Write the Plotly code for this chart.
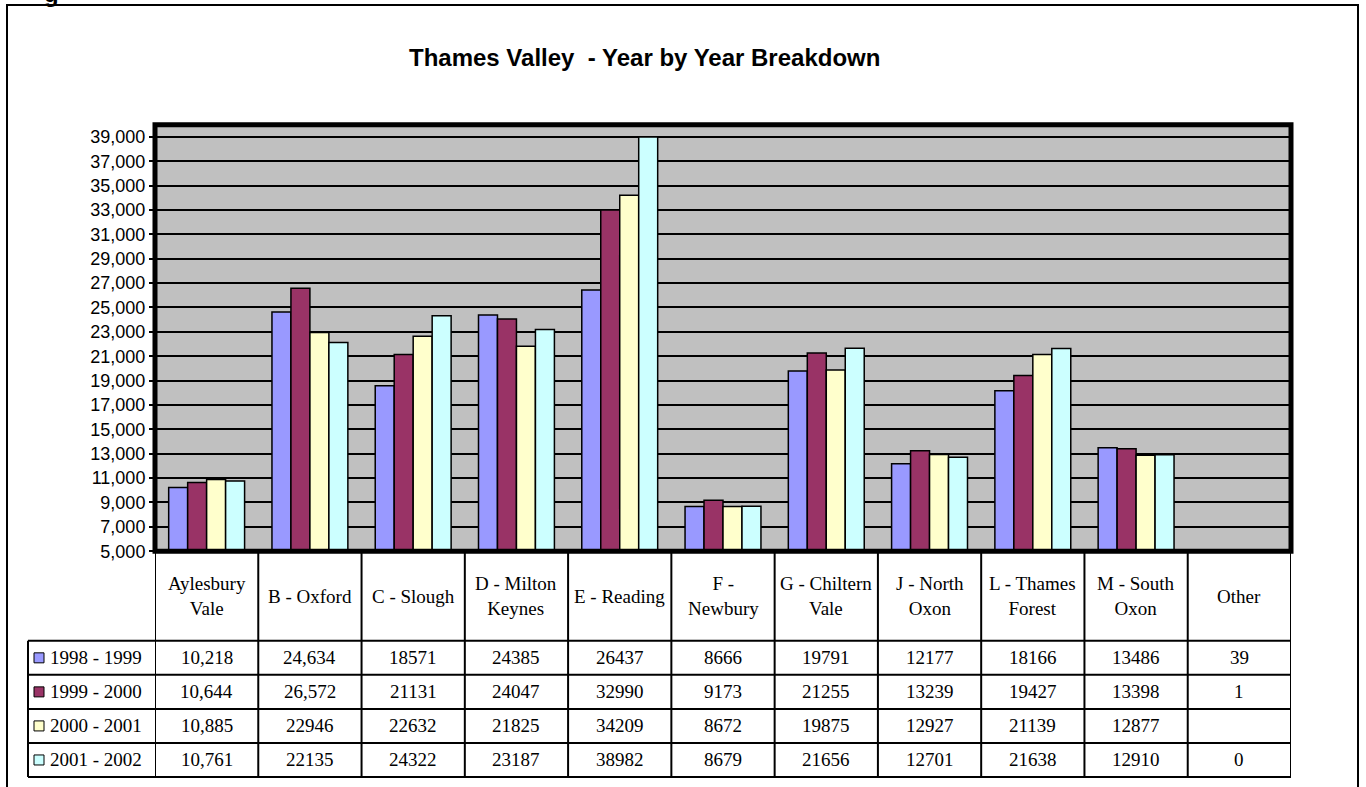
import plotly.graph_objects as go

W, H = 1366, 787
FIG_H = 798  # page is shown slightly squashed vertically; keep fractions on 787

categories = ["Aylesbury<br>Vale", "B - Oxford", "C - Slough", "D - Milton<br>Keynes",
              "E - Reading", "F -<br>Newbury", "G - Chiltern<br>Vale", "J - North<br>Oxon",
              "L - Thames<br>Forest", "M - South<br>Oxon", "Other"]

series_names = ["1998 - 1999", "1999 - 2000", "2000 - 2001", "2001 - 2002"]
y1998 = [10218, 24634, 18571, 24385, 26437, 8666, 19791, 12177, 18166, 13486, 39]
y1999 = [10644, 26572, 21131, 24047, 32990, 9173, 21255, 13239, 19427, 13398, 1]
y2000 = [10885, 22946, 22632, 21825, 34209, 8672, 19875, 12927, 21139, 12877, None]
y2001 = [10761, 22135, 24322, 23187, 38982, 8679, 21656, 12701, 21638, 12910, 0]
# how many leading cells in each table row are shown with thousands separators
comma_cells = [2, 2, 1, 1]

y_ticks = list(range(5000, 40000, 2000))

colors = ["#9999FF", "#993366", "#FFFFCC", "#CCFFFF"]
series = [y1998, y1999, y2000, y2001]


def px(x):
    return x / W


def py(y):
    return 1 - y / H


# pixel layout
plot_l, plot_r, plot_t, plot_b = 155, 1291, 124.5, 550.5
head_b = 640
row_h = 34
legend_l = 28

fig = go.Figure()
for name, vals, col in zip(series_names, series, colors):
    fig.add_trace(go.Bar(x=categories, y=vals, name=name, marker_color=col,
                         marker_line=dict(color="black", width=1.5)))

fig.update_layout(
    width=W, height=FIG_H, autosize=False,
    margin=dict(l=0, r=0, t=0, b=0),
    paper_bgcolor="white", plot_bgcolor="#C0C0C0",
    showlegend=False,
    barmode="group", bargap=0.265, bargroupgap=0,
    font=dict(family="Liberation Sans", color="black"),
    xaxis=dict(domain=[px(plot_l), px(plot_r)], type="category", range=[-0.5, 10.5],
               showticklabels=False, showgrid=False, zeroline=False, ticks=""),
    yaxis=dict(domain=[py(plot_b), py(plot_t)], range=[5000, 40000],
               tickvals=y_ticks, tickformat=",", showgrid=True, gridcolor="black",
               gridwidth=2, zeroline=False, ticks="outside", ticklen=5,
               tickwidth=1.5, tickcolor="black",
               tickfont=dict(size=18, family="Liberation Sans")),
)

shapes = []
# outer chart border
shapes.append(dict(type="rect", xref="paper", yref="paper", x0=px(7), x1=px(1358),
                   y0=py(800), y1=py(5), line=dict(color="black", width=2)))
# thick plot area frame
shapes.append(dict(type="rect", xref="paper", yref="paper", x0=px(plot_l), x1=px(plot_r),
                   y0=py(plot_b), y1=py(plot_t), line=dict(color="black", width=5)))

# data table grid
table_b = head_b + row_h * 4
for k in range(len(categories) + 1):
    shapes.append(dict(type="line", xref="x", yref="paper", x0=k - 0.5, x1=k - 0.5,
                       y0=py(plot_b), y1=py(table_b), line=dict(color="black", width=2)))
shapes.append(dict(type="line", xref="paper", yref="paper", x0=px(legend_l), x1=px(legend_l),
                   y0=py(head_b), y1=py(table_b), line=dict(color="black", width=2)))
for r in range(5):
    yy = head_b + r * row_h
    shapes.append(dict(type="line", xref="paper", yref="paper", x0=px(legend_l), x1=px(plot_r),
                       y0=py(yy), y1=py(yy), line=dict(color="black", width=2)))

annotations = []
annotations.append(dict(text="<b>Thames Valley  - Year by Year Breakdown</b>", xref="paper",
                        yref="paper", x=px(644), y=py(57), xanchor="center", yanchor="middle",
                        showarrow=False, font=dict(size=24, family="Liberation Sans")))
annotations.append(dict(text="<b>g</b>", xref="paper", yref="paper", x=px(51), y=py(9),
                        xanchor="center", yanchor="bottom",
                        showarrow=False, font=dict(size=24, family="Liberation Sans")))

serif = dict(size=19, family="Liberation Serif", color="black")
for i, cat in enumerate(categories):
    annotations.append(dict(text=cat, xref="x", yref="paper", x=i, y=py((plot_b + head_b) / 2),
                            xanchor="center", yanchor="middle", showarrow=False, font=serif))

for r, (name, vals, col) in enumerate(zip(series_names, series, colors)):
    yc = head_b + row_h * r + row_h / 2
    shapes.append(dict(type="rect", xref="paper", yref="paper", x0=px(34), x1=px(44),
                       y0=py(yc + 5), y1=py(yc - 5), fillcolor=col,
                       line=dict(color="black", width=1)))
    annotations.append(dict(text=name, xref="paper", yref="paper", x=px(48), y=py(yc),
                            xanchor="left", yanchor="middle", showarrow=False, font=serif))
    for i, v in enumerate(vals):
        if v is None:
            continue
        txt = f"{v:,}" if i < comma_cells[r] else str(v)
        annotations.append(dict(text=txt, xref="x", yref="paper", x=i, y=py(yc),
                                xanchor="center", yanchor="middle", showarrow=False, font=serif))

fig.update_layout(shapes=shapes, annotations=annotations)
fig.write_html(
    "out.html",
    config={"displayModeBar": False},
    post_script=("document.documentElement.style.overflow='hidden';"
                 "document.body.style.margin='0';document.body.style.overflow='hidden';"),
)
